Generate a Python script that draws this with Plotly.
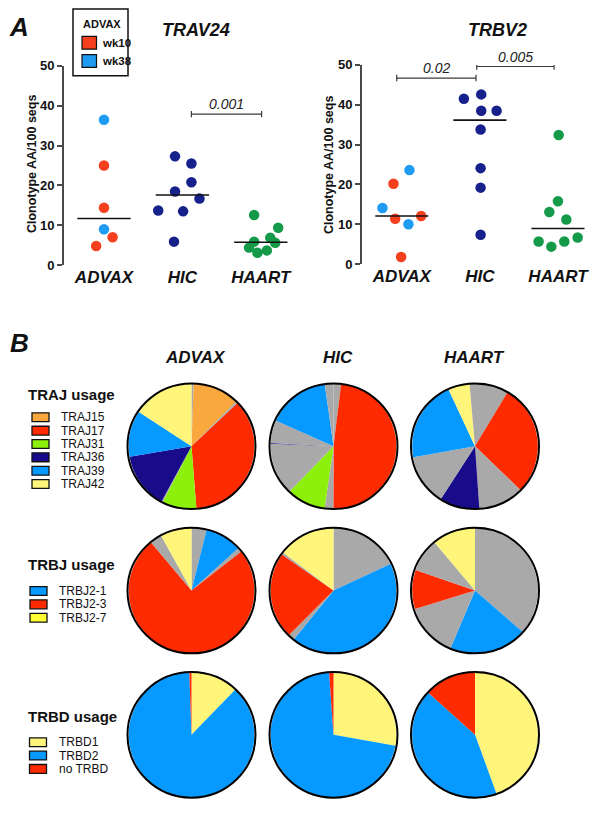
import numpy as np
import plotly.graph_objects as go

W, H = 604, 814
FONT = "Liberation Sans"

# ---------------- Panel A data ----------------
groups = ["ADVAX", "HIC", "HAART"]

# TRAV24 (left)
trav24_advax = [36.5, 25.0, 14.4, 9.0, 7.0, 4.8]
trav24_advax_wk = ["wk38", "wk10", "wk10", "wk38", "wk10", "wk10"]
trav24_advax_dx = [0.0, 0.0, 0.0, 0.0, 0.11, -0.10]
trav24_hic = [27.3, 25.5, 20.8, 18.5, 16.7, 13.7, 13.5, 5.9]
trav24_hic_dx = [-0.094, 0.115, 0.115, -0.094, 0.218, -0.308, 0.009, -0.107]
trav24_haart = [12.6, 9.4, 6.9, 5.9, 5.6, 4.4, 3.7, 3.1]
trav24_haart_dx = [-0.085, 0.222, 0.12, -0.085, 0.184, -0.15, 0.077, -0.043]

# TRBV2 (right)
trbv2_advax = [23.6, 20.2, 14.1, 12.1, 11.4, 10.0, 1.8]
trbv2_advax_wk = ["wk38", "wk10", "wk38", "wk10", "wk10", "wk38", "wk10"]
trbv2_advax_dx = [0.098, -0.107, -0.248, 0.248, -0.085, 0.085, -0.009]
trbv2_hic = [42.6, 41.5, 38.5, 38.5, 33.8, 24.1, 19.2, 7.4]
trbv2_hic_dx = [0.017, -0.205, 0.017, 0.214, 0.009, 0.009, 0.009, 0.009]
trbv2_haart = [32.4, 15.8, 13.1, 11.2, 6.7, 5.7, 5.7, 4.4]
trbv2_haart_dx = [0.009, 0.0, -0.111, 0.107, 0.252, -0.248, 0.081, -0.085]

# significance brackets: (panel, x0, x1, y, label)
brackets = [
    ("left", 1.115, 2.01, 37.9, "0.001"),
    ("right", -0.065, 0.95, 46.7, "0.02"),
    ("right", 0.96, 1.95, 49.6, "0.005"),
]

wk_colors = {"wk10": "#F4401F", "wk38": "#1F9BF2"}
hic_color = "#17218C"
haart_color = "#149A49"

# ---------------- Panel B data ----------------
pie_colors = {
    "TRAJ15": "#F8A83C", "TRAJ17": "#FF2B00", "TRAJ31": "#8CF00A",
    "TRAJ36": "#180C8A", "TRAJ39": "#0699FF", "TRAJ42": "#FFF57A",
    "TRBJ2-1": "#0699FF", "TRBJ2-3": "#FF2B00", "TRBJ2-7": "#FFF57A",
    "TRBD1": "#FFF57A", "TRBD2": "#0699FF", "no TRBD": "#FF2B00",
    "other": "#A9A9A9",
}
legend_colors = dict(pie_colors)
legend_colors["TRBJ2-7"] = "#FFFF33"

traj_legend = ["TRAJ15", "TRAJ17", "TRAJ31", "TRAJ36", "TRAJ39", "TRAJ42"]
trbj_legend = ["TRBJ2-1", "TRBJ2-3", "TRBJ2-7"]
trbd_legend = ["TRBD1", "TRBD2", "no TRBD"]

# slices, clockwise from 12 o'clock (share of sequences, in degrees of the circle)
traj_advax_lab = ["other", "TRAJ15", "other", "TRAJ17", "TRAJ31", "other", "TRAJ36", "TRAJ39", "TRAJ42"]
traj_advax_val = [2, 43, 2, 129, 32, 1, 52, 43, 57]
traj_hic_lab = ["other", "TRAJ17", "other", "TRAJ31", "other", "TRAJ36", "other", "TRAJ39", "other"]
traj_hic_val = [7, 173, 8, 36, 48, 0.7, 21, 58, 8]
traj_haart_lab = ["other", "TRAJ17", "other", "TRAJ36", "other", "TRAJ39", "TRAJ42", "other"]
traj_haart_val = [31, 103, 42, 37, 47, 75, 20, 5]

trbj_advax_lab = ["other", "TRBJ2-1", "other", "TRBJ2-3", "other", "TRBJ2-7"]
trbj_advax_val = [14, 34, 4, 268, 11, 29]
trbj_hic_lab = ["other", "TRBJ2-1", "other", "TRBJ2-3", "other", "TRBJ2-7"]
trbj_hic_val = [65, 154, 6, 80, 2, 53]
trbj_haart_lab = ["other", "TRBJ2-1", "other", "TRBJ2-3", "other", "TRBJ2-7"]
trbj_haart_val = [131, 72, 50, 36, 31, 40]

trbd_advax_lab = ["TRBD1", "TRBD2", "no TRBD"]
trbd_advax_val = [44, 314, 2]
trbd_hic_lab = ["TRBD1", "TRBD2", "no TRBD"]
trbd_hic_val = [100, 256, 4]
trbd_haart_lab = ["TRBD1", "TRBD2", "no TRBD"]
trbd_haart_val = [160, 152, 48]

# ---------------- helpers ----------------
def px(x):
    return x / W


def py(y):
    return 1 - y / H


fig = go.Figure()
shapes = []
annotations = []

AXC = "#4A4A4A"


def ann(x, y, text, font, xanchor="center", **kw):
    d = dict(xref="paper", yref="paper", x=px(x), y=py(y), text=text, showarrow=False,
             xanchor=xanchor, yanchor="middle", font=font)
    d.update(kw)
    annotations.append(d)


def add_dot_panel(xa, ya, advax, advax_wk, advax_dx, hic, hic_dx, haart, haart_dx):
    fig.add_trace(go.Scatter(
        x=[0 + d for d in advax_dx], y=advax, mode="markers", xaxis=xa, yaxis=ya, cliponaxis=False,
        marker=dict(size=10.5, color=[wk_colors[w] for w in advax_wk]),
        showlegend=False, hoverinfo="y"))
    fig.add_trace(go.Scatter(
        x=[1 + d for d in hic_dx], y=hic, mode="markers", xaxis=xa, yaxis=ya, cliponaxis=False,
        marker=dict(size=10.5, color=hic_color), showlegend=False, hoverinfo="y"))
    fig.add_trace(go.Scatter(
        x=[2 + d for d in haart_dx], y=haart, mode="markers", xaxis=xa, yaxis=ya, cliponaxis=False,
        marker=dict(size=10.5, color=haart_color), showlegend=False, hoverinfo="y"))
    for i, vals in enumerate([advax, hic, haart]):
        m = float(np.median(vals))
        fig.add_trace(go.Scatter(
            x=[i - 0.34, i + 0.34], y=[m, m], mode="lines", xaxis=xa, yaxis=ya,
            cliponaxis=False, line=dict(color="#111111", width=1.6),
            showlegend=False, hoverinfo="skip"))


add_dot_panel("x", "y", trav24_advax, trav24_advax_wk, trav24_advax_dx,
              trav24_hic, trav24_hic_dx, trav24_haart, trav24_haart_dx)
add_dot_panel("x2", "y2", trbv2_advax, trbv2_advax_wk, trbv2_advax_dx,
              trbv2_hic, trbv2_hic_dx, trbv2_haart, trbv2_haart_dx)

for panel, x0, x1, yv, lab in brackets:
    xr, yr = ("x", "y") if panel == "left" else ("x2", "y2")
    lc = "#3A3A3A"
    shapes.append(dict(type="line", xref=xr, yref=yr, x0=x0, x1=x1, y0=yv, y1=yv,
                       line=dict(color=lc, width=1.2)))
    for xe in (x0, x1):
        shapes.append(dict(type="line", xref=xr, yref=yr, x0=xe, x1=xe, y0=yv - 0.8, y1=yv + 0.8,
                           line=dict(color=lc, width=1.2)))
    annotations.append(dict(xref=xr, yref=yr, x=(x0 + x1) / 2, y=yv, yshift=10, text=lab,
                            xanchor="center", yanchor="middle",
                            showarrow=False, font=dict(family=FONT, size=14, style="italic", color="#222")))

axis_common_y = dict(range=[0, 50], tickvals=[0, 10, 20, 30, 40, 50], showline=True,
                     linecolor=AXC, linewidth=2, ticks="outside", ticklen=5, tickwidth=2,
                     tickcolor=AXC, showgrid=False, zeroline=False,
                     tickfont=dict(family=FONT, size=13, weight="bold", color="#111"))
axis_common_x = dict(range=[-0.51, 2.5], tickvals=[0, 1, 2], ticktext=groups, showline=False,
                     ticks="", showgrid=False, zeroline=False,
                     tickfont=dict(family=FONT, size=17, weight="bold", style="italic", color="#111"))

fig.update_layout(
    xaxis=dict(domain=[px(64), px(300)], anchor="y", **axis_common_x),
    yaxis=dict(domain=[py(263), py(60)], anchor="x", **axis_common_y),
    xaxis2=dict(domain=[px(362), px(597)], anchor="y2", **axis_common_x),
    yaxis2=dict(domain=[py(262), py(59)], anchor="x2", **axis_common_y),
)

# y axis titles
for xx in (32, 329):
    ann(xx, 160, "Clonotype AA/100 seqs", dict(family=FONT, size=12.5, weight="bold", color="#111"),
        textangle=-90)
# panel titles
ann(196, 23, "TRAV24", dict(family=FONT, size=18, weight="bold", style="italic", color="#111"))
ann(497, 23, "TRBV2", dict(family=FONT, size=18, weight="bold", style="italic", color="#111"))
# panel letters
ann(19, 20, "A", dict(family=FONT, size=26, weight="bold", style="italic", color="#111"))
ann(19, 342, "B", dict(family=FONT, size=26, weight="bold", style="italic", color="#111"))

# panel A legend box
shapes.append(dict(type="rect", xref="paper", yref="paper", x0=px(73), x1=px(128), y0=py(70), y1=py(2),
                   line=dict(color="#111", width=1.5), fillcolor="white"))
ann(81, 17, "ADVAX", dict(family=FONT, size=11, weight="bold", color="#111"), xanchor="left")
for wk, yc in (("wk10", 36.5), ("wk38", 55)):
    shapes.append(dict(type="rect", xref="paper", yref="paper", x0=px(82), x1=px(96.5),
                       y0=py(yc + 6.5), y1=py(yc - 6.5),
                       line=dict(color="#111", width=1.2), fillcolor=wk_colors[wk]))
    ann(99.5, yc, wk, dict(family=FONT, size=11.5, weight="bold", color="#111"), xanchor="left")

# ---------------- Panel B pies ----------------
col_x = [191.5, 333.5, 475]
row_y = [447.5, 594.5, 741.5]
R = 64
pie_rows = [
    [(traj_advax_lab, traj_advax_val), (traj_hic_lab, traj_hic_val), (traj_haart_lab, traj_haart_val)],
    [(trbj_advax_lab, trbj_advax_val), (trbj_hic_lab, trbj_hic_val), (trbj_haart_lab, trbj_haart_val)],
    [(trbd_advax_lab, trbd_advax_val), (trbd_hic_lab, trbd_hic_val), (trbd_haart_lab, trbd_haart_val)],
]
for r, row in enumerate(pie_rows):
    for c, (labs, vals) in enumerate(row):
        cx, cy = col_x[c], row_y[r]
        fig.add_trace(go.Pie(
            labels=[f"{l} #{k}" for k, l in enumerate(labs)], values=vals,
            marker=dict(colors=[pie_colors[l] for l in labs], line=dict(width=0)),
            sort=False, direction="clockwise", rotation=0, textinfo="none",
            hoverinfo="label+percent", showlegend=False,
            domain=dict(x=[px(cx - R), px(cx + R)], y=[py(cy + R), py(cy - R)])))
        shapes.append(dict(type="circle", xref="paper", yref="paper",
                           x0=px(cx - R), x1=px(cx + R), y0=py(cy + R), y1=py(cy - R),
                           line=dict(color="#000", width=2)))

for name, xc in zip(groups, [195, 338, 474]):
    ann(xc, 357, name, dict(family=FONT, size=17, weight="bold", style="italic", color="#111"))


def add_pie_legend(title, y_title, items, y_items, x_sq=32):
    ann(26, y_title, title, dict(family=FONT, size=15, weight="bold", color="#111"), xanchor="left")
    for it, yc in zip(items, y_items):
        shapes.append(dict(type="rect", xref="paper", yref="paper", x0=px(x_sq), x1=px(x_sq + 17),
                           y0=py(yc + 4.5), y1=py(yc - 4.5),
                           line=dict(color="#111", width=1.3), fillcolor=legend_colors[it]))
        ann(x_sq + 27, yc, it, dict(family=FONT, size=12, color="#111"), xanchor="left")


add_pie_legend("TRAJ usage", 395, traj_legend, [418, 431.6, 445.2, 458.8, 472.4, 486], x_sq=32)
add_pie_legend("TRBJ usage", 568, trbj_legend, [595, 608.6, 622.2], x_sq=30)
add_pie_legend("TRBD usage", 723, trbd_legend, [749, 762.6, 776.2], x_sq=29.5)

fig.update_layout(
    width=W, height=H, margin=dict(l=0, r=0, t=0, b=0),
    paper_bgcolor="white", plot_bgcolor="white",
    shapes=shapes, annotations=annotations,
    font=dict(family=FONT),
)

fig.write_html("out.html", config={"displayModeBar": False},
               post_script="document.body.style.margin='0';document.body.style.overflow='hidden';")
